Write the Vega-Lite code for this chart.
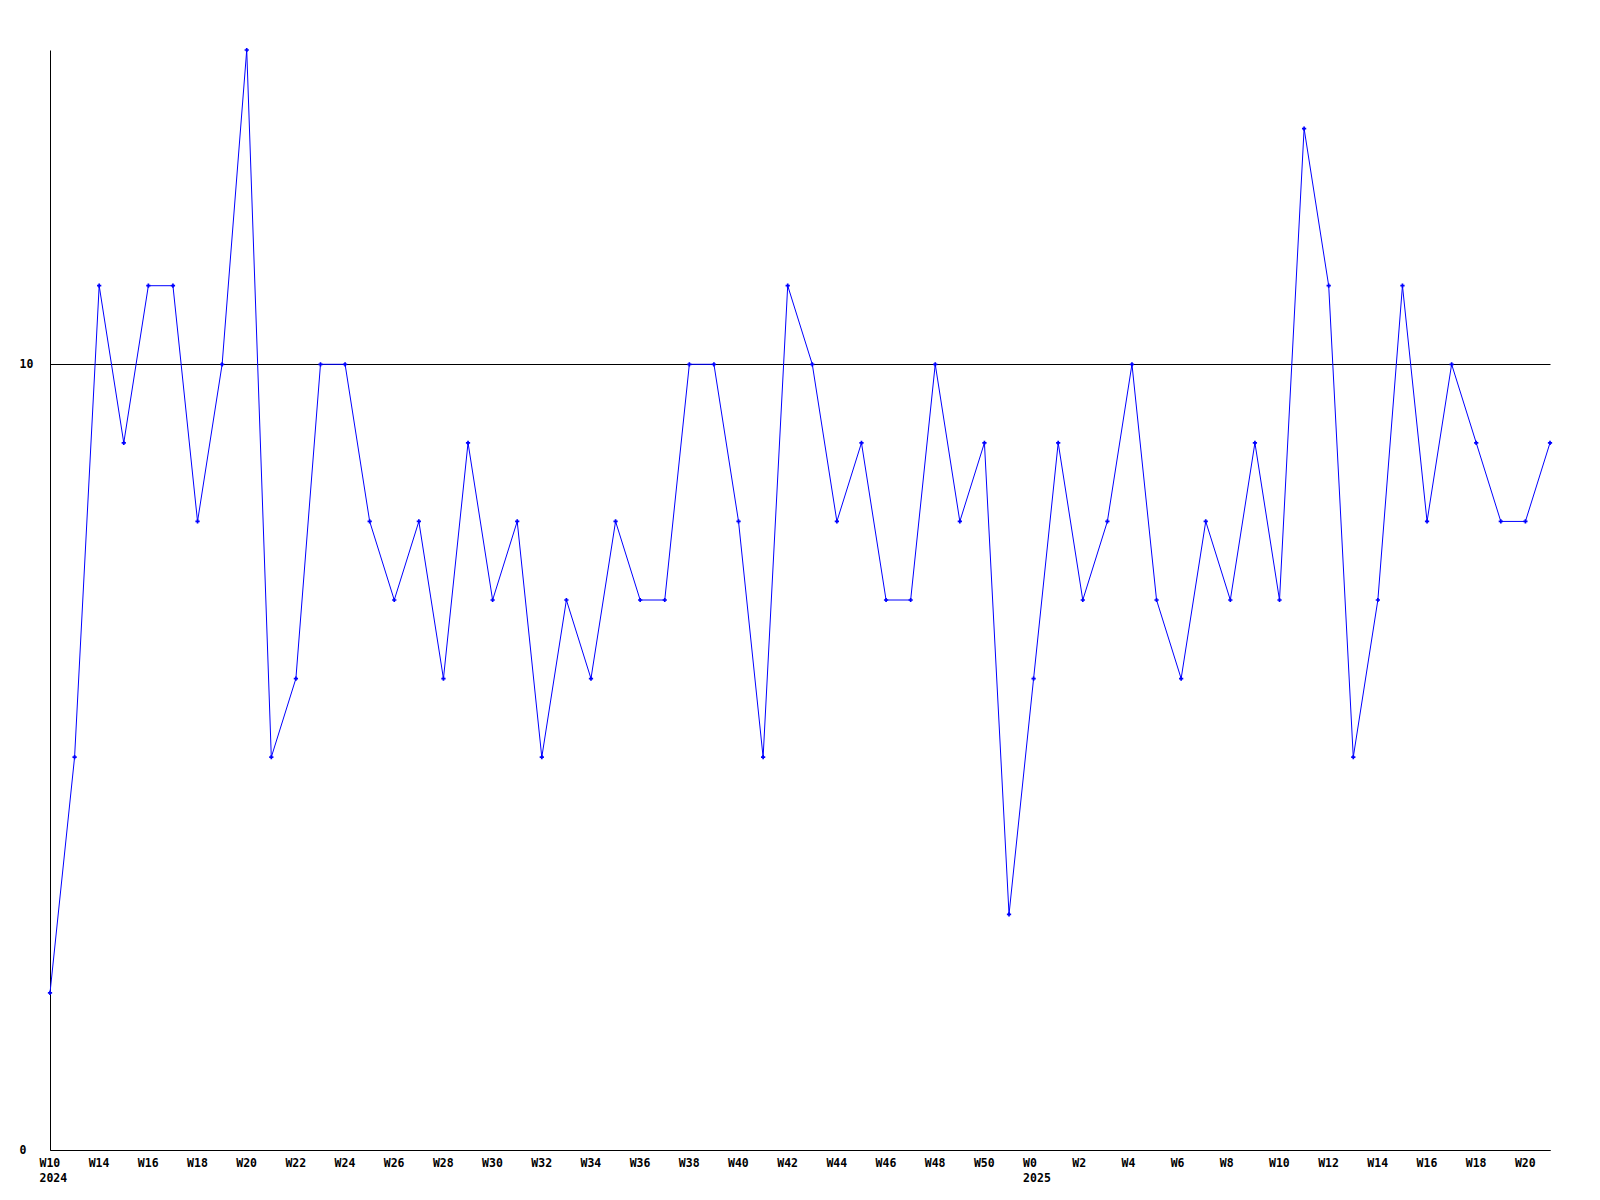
{
  "$schema": "https://vega.github.io/schema/vega-lite/v6.json",
  "width": 1500,
  "height": 1100,
  "autosize": {"type": "none"},
  "padding": {"left": 50, "top": 50, "right": 50, "bottom": 50},
  "background": "white",
  "config": {"view": {"stroke": null}, "font": "DejaVu Sans Mono"},
  "data": {"values": [
    {"week": "2024-W12", "value": 2},
    {"week": "2024-W13", "value": 5},
    {"week": "2024-W14", "value": 11},
    {"week": "2024-W15", "value": 9},
    {"week": "2024-W16", "value": 11},
    {"week": "2024-W17", "value": 11},
    {"week": "2024-W18", "value": 8},
    {"week": "2024-W19", "value": 10},
    {"week": "2024-W20", "value": 14},
    {"week": "2024-W21", "value": 5},
    {"week": "2024-W22", "value": 6},
    {"week": "2024-W23", "value": 10},
    {"week": "2024-W24", "value": 10},
    {"week": "2024-W25", "value": 8},
    {"week": "2024-W26", "value": 7},
    {"week": "2024-W27", "value": 8},
    {"week": "2024-W28", "value": 6},
    {"week": "2024-W29", "value": 9},
    {"week": "2024-W30", "value": 7},
    {"week": "2024-W31", "value": 8},
    {"week": "2024-W32", "value": 5},
    {"week": "2024-W33", "value": 7},
    {"week": "2024-W34", "value": 6},
    {"week": "2024-W35", "value": 8},
    {"week": "2024-W36", "value": 7},
    {"week": "2024-W37", "value": 7},
    {"week": "2024-W38", "value": 10},
    {"week": "2024-W39", "value": 10},
    {"week": "2024-W40", "value": 8},
    {"week": "2024-W41", "value": 5},
    {"week": "2024-W42", "value": 11},
    {"week": "2024-W43", "value": 10},
    {"week": "2024-W44", "value": 8},
    {"week": "2024-W45", "value": 9},
    {"week": "2024-W46", "value": 7},
    {"week": "2024-W47", "value": 7},
    {"week": "2024-W48", "value": 10},
    {"week": "2024-W49", "value": 8},
    {"week": "2024-W50", "value": 9},
    {"week": "2024-W51", "value": 3},
    {"week": "2025-W0", "value": 6},
    {"week": "2025-W1", "value": 9},
    {"week": "2025-W2", "value": 7},
    {"week": "2025-W3", "value": 8},
    {"week": "2025-W4", "value": 10},
    {"week": "2025-W5", "value": 7},
    {"week": "2025-W6", "value": 6},
    {"week": "2025-W7", "value": 8},
    {"week": "2025-W8", "value": 7},
    {"week": "2025-W9", "value": 9},
    {"week": "2025-W10", "value": 7},
    {"week": "2025-W11", "value": 13},
    {"week": "2025-W12", "value": 11},
    {"week": "2025-W13", "value": 5},
    {"week": "2025-W14", "value": 7},
    {"week": "2025-W15", "value": 11},
    {"week": "2025-W16", "value": 8},
    {"week": "2025-W17", "value": 10},
    {"week": "2025-W18", "value": 9},
    {"week": "2025-W19", "value": 8},
    {"week": "2025-W20", "value": 8},
    {"week": "2025-W21", "value": 9}
  ]},
  "encoding": {
    "x": {
      "field": "week", "type": "ordinal", "sort": null,
      "scale": {"type": "point", "padding": 0},
      "axis": {
        "title": null,
        "values": ["2024-W12","2024-W14","2024-W16","2024-W18","2024-W20","2024-W22","2024-W24","2024-W26","2024-W28","2024-W30","2024-W32","2024-W34","2024-W36","2024-W38","2024-W40","2024-W42","2024-W44","2024-W46","2024-W48","2024-W50","2025-W0","2025-W2","2025-W4","2025-W6","2025-W8","2025-W10","2025-W12","2025-W14","2025-W16","2025-W18","2025-W20"],
        "labelExpr": "datum.value == '2024-W12' ? ['W10', '2024'] : datum.value == '2025-W0' ? ['W0', '2025'] : split(datum.value, '-')[1]",
        "labelAngle": 0,
        "labelAlign": "left",
        "labelBaseline": "top",
        "labelOffset": -11,
        "labelPadding": 7,
        "labelLineHeight": 15,
        "labelFont": "DejaVu Sans Mono",
        "labelFontSize": 11.5,
        "labelFontWeight": "bold",
        "labelColor": "black",
        "labelOverlap": false,
        "ticks": false,
        "tickSize": 0,
        "domainColor": "black",
        "domainWidth": 1,
        "grid": false
      }
    },
    "y": {
      "field": "value", "type": "quantitative",
      "scale": {"domain": [0, 14], "nice": false, "zero": true},
      "axis": {
        "title": null,
        "values": [0, 10],
        "ticks": false,
        "tickSize": 0,
        "labelAlign": "left",
        "labelBaseline": "middle",
        "labelPadding": 31,
        "labelFont": "DejaVu Sans Mono",
        "labelFontSize": 11.5,
        "labelFontWeight": "bold",
        "labelColor": "black",
        "domainColor": "black",
        "domainWidth": 1,
        "grid": true,
        "gridColor": "black",
        "gridOpacity": 1,
        "gridWidth": 1
      }
    }
  },
  "layer": [
    {"mark": {"type": "line", "color": "#0000ff", "strokeWidth": 1}},
    {"mark": {"type": "point", "shape": "cross", "filled": true, "color": "#0000ff", "size": 18, "opacity": 1}}
  ]
}
